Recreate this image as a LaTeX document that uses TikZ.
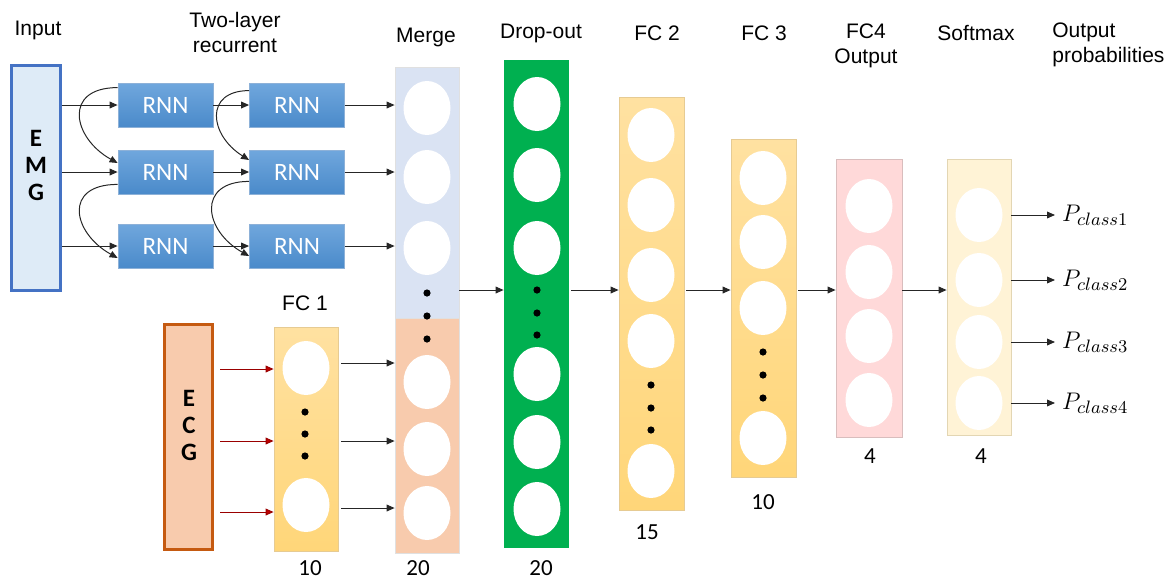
\documentclass[tikz,border=0pt]{standalone}
\usepackage{fontspec}
\setmainfont{Liberation Sans}
\newfontfamily\calibfont{Carlito}
\usetikzlibrary{arrows.meta,shapes.geometric}
\definecolor{emgfill}{HTML}{DEEBF7}
\definecolor{emgedge}{HTML}{4472C4}
\definecolor{ecgfill}{HTML}{F8CBAD}
\definecolor{ecgedge}{HTML}{C55A11}
\definecolor{rnntop}{HTML}{70A7DD}
\definecolor{rnnbot}{HTML}{4A8ACA}
\definecolor{rnnedge}{HTML}{8DB1D8}
\definecolor{mergeblue}{HTML}{DAE3F3}
\definecolor{peach}{HTML}{F8CBAD}
\definecolor{dropgreen}{HTML}{00B050}
\definecolor{fctop}{HTML}{FFE1A1}
\definecolor{fcbot}{HTML}{FFD679}
\definecolor{fcedge}{HTML}{E6CB93}
\definecolor{fcfourfill}{HTML}{FFD9D9}
\definecolor{fcfouredge}{HTML}{D9BDBD}
\definecolor{smfill}{HTML}{FFF3D6}
\definecolor{smedge}{HTML}{E3D6B3}
\definecolor{redarrow}{HTML}{C00000}
\begin{document}
\begin{tikzpicture}[x=0.5pt, y=-0.5pt,
		font=\fontsize{10.5}{12.5}\selectfont,
		layer/.style={rectangle, inner sep=0pt, line width=0.4pt},
		fclayer/.style={layer, draw=fcedge, top color=fctop, bottom color=fcbot},
		neuron/.style={ellipse, fill=white, inner sep=0pt, minimum width=23.5pt, minimum height=27pt},
		dot/.style={circle, fill=black, inner sep=0pt, minimum size=3.6pt},
		rnn/.style={rectangle, draw=rnnedge, top color=rnntop, bottom color=rnnbot, text=white,
			minimum width=47.5pt, minimum height=22pt, font=\calibfont\fontsize{12.5}{14}\selectfont},
		letters/.style={align=center, font=\calibfont\bfseries\fontsize{12.5}{13.5}\selectfont},
		num/.style={font=\calibfont\fontsize{11.5}{13}\selectfont},
		arr/.style={-{Triangle[length=4pt,width=3.4pt]}, line width=0.5pt, draw=black!85},
		redarr/.style={arr, draw=redarrow!80!black, -{Triangle[length=4pt,width=3.4pt,fill=redarrow]}}
		]
	\useasboundingbox (0,0) rectangle (1169,580);

	% titles
	\node (linput) at (38,30) {Input};
	\node[align=center] (lrnn) at (235,32) {Two-layer\\recurrent};
	\node (lmerge) at (426,37) {Merge};
	\node (ldrop) at (541,33) {Drop-out};
	\node (lfctwo) at (657,33) {FC 2};
	\node (lfcthree) at (764,33) {FC 3};
	\node[align=center] (lfcfour) at (866,46) {FC4\\Output};
	\node (lsm) at (976,33) {Softmax};
	\node[align=left, anchor=west, inner sep=0pt] (lout) at (1052,45) {Output\\probabilities};
	\node (lfcone) at (305,303) {FC 1};

	% inputs
	\node[layer, draw=emgedge, line width=1.5pt, fill=emgfill, minimum width=24.5pt, minimum height=112.5pt] (emg) at (36,178) {};
	\node[letters] (emgtxt) at (36,165) {E\\M\\G};
	\node[layer, draw=ecgedge, line width=1.5pt, fill=ecgfill, minimum width=24pt, minimum height=112.5pt] (ecg) at (188.5,437) {};
	\node[letters] (ecgtxt) at (189,425) {E\\C\\G};

	% recurrent part
	\foreach \x/\c in {165.5/1, 297/2}
		\foreach \y/\r in {105/1, 172/2, 246/3}
			\node[rnn] (r\c\r) at (\x,\y) {RNN};

	% layers
	\node[layer, draw=black!12, fill=mergeblue, minimum width=32pt, minimum height=125.5pt] (mtop) at (427,192.5) {};
	\node[layer, draw=black!12, fill=peach, minimum width=32pt, minimum height=117.5pt] (mbot) at (427,435.5) {};
	\node[fclayer, minimum width=32pt, minimum height=112pt] (fc1) at (306,439) {};
	\node[layer, fill=dropgreen, minimum width=32.5pt, minimum height=244pt] (drop) at (536.5,304) {};
	\node[fclayer, minimum width=32.5pt, minimum height=206.5pt] (fc2) at (651.5,303.5) {};
	\node[fclayer, minimum width=32.5pt, minimum height=169pt] (fc3) at (763.5,308) {};
	\node[layer, draw=fcfouredge, fill=fcfourfill, minimum width=33pt, minimum height=139pt] (fc4) at (869,298) {};
	\node[layer, draw=smedge, fill=smfill, minimum width=32pt, minimum height=138pt] (sm) at (979,297) {};

	% neurons
	\foreach \y [count=\i] in {108,177,248,382,449,513}
		\node[neuron] (mn\i) at (427,\y) {};
	\foreach \y [count=\i] in {293,316,339}
		\node[dot] (md\i) at (427,\y) {};
	\foreach \y [count=\i] in {368,505}
		\node[neuron] (fan\i) at (306,\y) {};
	\foreach \y [count=\i] in {412,434,456}
		\node[dot] (fad\i) at (305,\y) {};
	\foreach \y [count=\i] in {104,175,248,374,442,509}
		\node[neuron] (dn\i) at (537,\y) {};
	\foreach \y [count=\i] in {290,313,335}
		\node[dot] (dd\i) at (537,\y) {};
	\foreach \y [count=\i] in {135,205,275,341,471}
		\node[neuron] (fbn\i) at (651,\y) {};
	\foreach \y [count=\i] in {385,408,430}
		\node[dot] (fbd\i) at (651,\y) {};
	\foreach \y [count=\i] in {178,242,308,438}
		\node[neuron] (fcn\i) at (763,\y) {};
	\foreach \y [count=\i] in {352,375,398}
		\node[dot] (fcd\i) at (763,\y) {};
	\foreach \y [count=\i] in {206,272,336,400}
		\node[neuron] (fdn\i) at (869,\y) {};
	\foreach \y [count=\i] in {215,280,342,403}
		\node[neuron] (sn\i) at (979,\y) {};

	% sizes
	\node[num] (nfcone) at (310,568) {10};
	\node[num] (nmerge) at (418,568) {20};
	\node[num] (ndrop) at (541,568) {20};
	\node[num] (nfctwo) at (647,532) {15};
	\node[num] (nfcthree) at (763,502) {10};
	\node[num] (nfcfour) at (870,456) {4};
	\node[num] (nsm) at (981,456) {4};

	% outputs
	\foreach \i in {1,2,3,4}
		\node[anchor=base west, font=\fontsize{13}{15}\selectfont] (p\i) at (1055,0 |- sn\i) [yshift=-3pt] {$P_{class\i}$};

	% connectors
	\foreach \r in {1,2,3} {
		\draw[arr] (emg.east |- r1\r) -- (r1\r);
		\draw[arr] (r1\r) -- (r2\r);
		\draw[arr] (r2\r) -- (mtop.west |- r2\r);
	}
	\draw[arr] ([yshift=-2.5pt]r11.north west) .. controls +(-55,0) and +(-45,-25) .. ([yshift=4.5pt]r12.west);
	\draw[arr] ([yshift=5pt]r12.south west) .. controls +(-55,0) and +(-45,-25) .. ([yshift=-6pt]r13.west);
	\draw[arr] ([yshift=-4pt]r21.north west) .. controls +(-45,0) and +(-40,-25) .. ([yshift=6pt]r22.west);
	\draw[arr] ([yshift=6.5pt]r22.south west) .. controls +(-53,0) and +(-45,-25) .. ([yshift=-5pt]r23.west);

	\foreach \y [count=\i] in {369,441,512} {
		\coordinate (ein\i) at (220,\y);
		\draw[redarr] (ein\i) -- (fc1.west |- ein\i);
	}
	\foreach \y [count=\i] in {363,441,508} {
		\coordinate (fo\i) at (341,\y);
		\draw[arr] (fo\i) -- (mbot.west |- fo\i);
	}

	\coordinate (mid) at (0,290);
	\draw[arr] (mtop.east |- mid) -- (drop.west |- mid);
	\draw[arr] ([xshift=1pt]drop.east |- mid) -- (fc2.west |- mid);
	\draw[arr] ([xshift=1pt]fc2.east |- mid) -- (fc3.west |- mid);
	\draw[arr] ([xshift=1pt]fc3.east |- mid) -- (fc4.west |- mid);
	\draw[arr] (fc4.east |- mid) -- (sm.west |- mid);
	\foreach \i in {1,2,3,4}
		\draw[arr] (sm.east |- sn\i) -- (p\i.west |- sn\i);
\end{tikzpicture}
\end{document}
